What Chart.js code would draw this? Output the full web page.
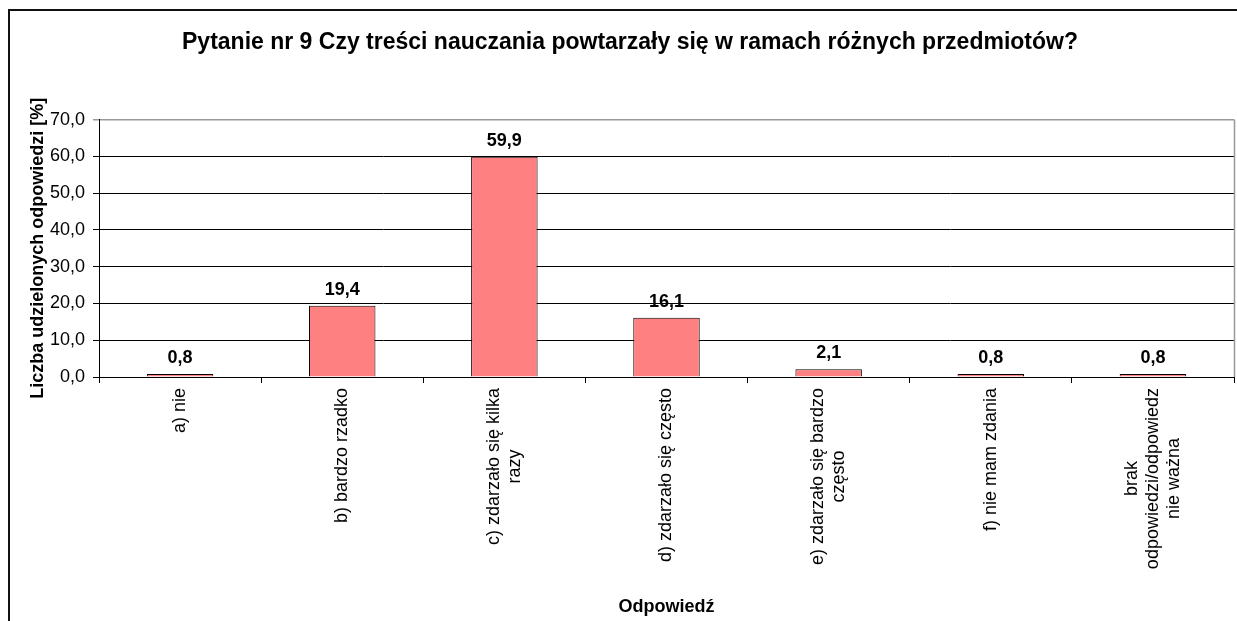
<!DOCTYPE html>
<html lang="pl">
<head>
<meta charset="UTF-8">
<title>Pytanie nr 9</title>
<script src="https://cdn.jsdelivr.net/npm/chart.js"></script>
<style>
  body { margin: 0; background: #fff; }
  #wrap { position: relative; width: 1237px; height: 621px; overflow: hidden; }
  #chart { display: block; }
  #frame { position: absolute; left: 8px; top: 9px; width: 1300px; height: 700px;
           border-left: 2px solid #111; border-top: 2px solid #111; pointer-events: none; }
</style>
</head>
<body>
<div id="wrap">
  <canvas id="chart" width="1237" height="621"></canvas>
  <div id="frame"></div>
</div>
<script>
const chartTitle = 'Pytanie nr 9 Czy treści nauczania powtarzały się w ramach różnych przedmiotów?';
const yTitle = 'Liczba udzielonych odpowiedzi [%]';
const xTitle = 'Odpowiedź';

// category labels, one entry per bar (multi-line where the original wraps)
const categories = [
    ['a) nie'],
    ['b) bardzo rzadko'],
    ['c) zdarzało się kilka', 'razy'],
    ['d) zdarzało się często'],
    ['e) zdarzało się bardzo', 'często'],
    ['f) nie mam zdania'],
    ['brak', 'odpowiedzi/odpowiedz', 'nie ważna']
];
const values = [0.8, 19.4, 59.9, 16.1, 2.1, 0.8, 0.8];

const yMin = 0, yMax = 70, yStep = 10;

const FONT = "'Liberation Sans', Arial, sans-serif";
const fmt = v => v.toFixed(1).replace('.', ',');

// value labels above bars
const valueLabels = {
    id: 'valueLabels',
    afterDatasetsDraw(chart) {
        const ctx = chart.ctx;
        const meta = chart.getDatasetMeta(0);
        ctx.save();
        ctx.font = 'bold 18px ' + FONT;
        ctx.fillStyle = '#000';
        ctx.textAlign = 'center';
        ctx.textBaseline = 'alphabetic';
        meta.data.forEach((bar, i) => {
            ctx.fillText(fmt(values[i]), bar.x, bar.y - 11);
        });
        ctx.restore();
    }
};

// rotated category labels, lines centred like the original
const categoryLabels = {
    id: 'categoryLabels',
    afterDraw(chart) {
        const ctx = chart.ctx;
        const xs = chart.scales.x;
        const lh = 21;
        ctx.save();
        ctx.font = '18px ' + FONT;
        ctx.fillStyle = '#000';
        ctx.textAlign = 'center';
        ctx.textBaseline = 'middle';
        categories.forEach((lines, i) => {
            const px = xs.getPixelForValue(i);
            const maxW = Math.max(...lines.map(l => ctx.measureText(l).width));
            ctx.save();
            ctx.translate(px, xs.top + 11);
            ctx.rotate(-Math.PI / 2);
            lines.forEach((l, j) => {
                ctx.fillText(l, -maxW / 2, (j - (lines.length - 1) / 2) * lh);
            });
            ctx.restore();
        });
        ctx.restore();
    }
};

// grey right edge of the plot area
const plotEdge = {
    id: 'plotEdge',
    afterDraw(chart) {
        const { ctx, chartArea } = chart;
        ctx.save();
        ctx.strokeStyle = '#999';
        ctx.lineWidth = 1.5;
        ctx.beginPath();
        ctx.moveTo(chartArea.right + 0.5, chartArea.top);
        ctx.lineTo(chartArea.right + 0.5, chartArea.bottom);
        ctx.stroke();
        ctx.restore();
    }
};

new Chart(document.getElementById('chart'), {
    type: 'bar',
    data: {
        labels: categories,
        datasets: [{
            data: values,
            backgroundColor: '#FF8080',
            borderColor: '#000',
            borderWidth: 1,
            barPercentage: 0.41,
            categoryPercentage: 1
        }]
    },
    options: {
        responsive: false,
        animation: false,
        devicePixelRatio: 1,
        layout: { padding: { left: 26, right: 3, top: 0, bottom: 0 } },
        plugins: {
            legend: { display: false },
            tooltip: { enabled: false },
            title: {
                display: true,
                text: chartTitle,
                color: '#000',
                font: { family: FONT, size: 23, weight: 'bold', lineHeight: 1.2 },
                padding: { top: 29, bottom: 63 }
            }
        },
        scales: {
            x: {
                offset: true,
                afterFit(scale) { scale.height = 244; },
                grid: {
                    display: true,
                    offset: true,
                    drawOnChartArea: false,
                    drawTicks: true,
                    tickLength: 6,
                    color: '#000'
                },
                border: { display: true, color: '#000', width: 1 },
                ticks: { display: false },
                title: {
                    display: true,
                    text: xTitle,
                    color: '#000',
                    font: { family: FONT, size: 18, weight: 'bold', lineHeight: 1.2 },
                    padding: { top: 0, bottom: 3 }
                }
            },
            y: {
                min: yMin,
                max: yMax,
                afterFit(scale) { scale.width = 73; },
                ticks: {
                    stepSize: yStep,
                    color: '#000',
                    padding: 8,
                    font: { family: FONT, size: 18 },
                    callback: v => fmt(v)
                },
                grid: {
                    color: c => (c.tick && c.tick.value === yMax) ? '#999' : '#000',
                    lineWidth: c => (c.tick && c.tick.value === yMax) ? 1.5 : 1,
                    tickLength: 6,
                    drawTicks: true
                },
                border: { display: true, color: '#000', width: 1 },
                title: {
                    display: true,
                    text: yTitle,
                    color: '#000',
                    font: { family: FONT, size: 18, weight: 'bold', lineHeight: 1.2 },
                    padding: { top: 1, bottom: 0 }
                }
            }
        }
    },
    plugins: [valueLabels, categoryLabels, plotEdge]
});
</script>
</body>
</html>
